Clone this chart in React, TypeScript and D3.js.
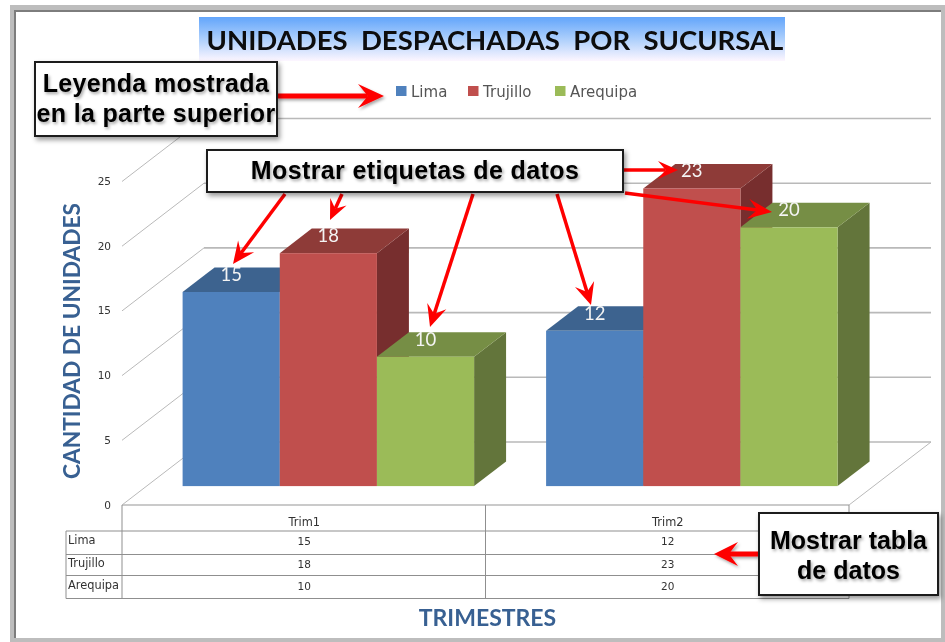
import React from "react";
import * as d3 from "d3";

const categories = ["Trim1", "Trim2"];
const seriesNames = ["Lima", "Trujillo", "Arequipa"];
const limaValues = [15, 12];
const trujilloValues = [18, 23];
const arequipaValues = [10, 20];
const yTicks = [0, 5, 10, 15, 20, 25];
const seriesValues = [limaValues, trujilloValues, arequipaValues];

const faceColors = ["#4f81bd", "#c0504d", "#9bbb59"];
const topColors = ["#3e648f", "#8e3b39", "#768e44"];
const sideColors = ["#335278", "#772f2e", "#64753a"];

const FLOOR_FRONT = 505;
const DEPTH_X = 82;
const DEPTH_Y = 63;
const BAR_DEPTH_FRONT = 0.3;
const BAR_DEPTH = 0.39;
const PLOT_LEFT = 122;
const PLOT_RIGHT = 849;

const yScale = d3.scaleLinear().domain([0, 25]).range([0, 323.5]);
const xOuter = d3.scaleBand<string>().domain(categories).range([PLOT_LEFT, PLOT_RIGHT]);
const groupPad = 36;
const xInner = d3.scaleBand<string>().domain(seriesNames).range([0, xOuter.bandwidth() - groupPad * 2]);

const barOffsetX = DEPTH_X * BAR_DEPTH_FRONT;
const barBase = FLOOR_FRONT - DEPTH_Y * BAR_DEPTH_FRONT;
const barDX = DEPTH_X * BAR_DEPTH;
const barDY = DEPTH_Y * BAR_DEPTH;

const tableRows = [531, 554.5, 575.5, 598.5];
const tableLeft = 66;

const LINE = "#b9b9b9";
const TABLE = "#8f8f8f";
const AXIS_FONT = "'DejaVu Sans', sans-serif";
const TITLE_FONT = "Lato, sans-serif";
const NOTE_FONT = "'Liberation Sans', Arial, sans-serif";

const notes = [
  { x: 35, y: 62, w: 242, h: 74, lines: ["Leyenda mostrada", "en la parte superior"], size: 25, spacing: 0.35, baselines: [92, 122] },
  { x: 207, y: 150, w: 416, h: 42, lines: ["Mostrar etiquetas de datos"], size: 25, spacing: 0.4, baselines: [179] },
  { x: 759, y: 513, w: 179, h: 82, lines: ["Mostrar tabla", "de datos"], size: 25, spacing: 0, baselines: [549, 579] },
];

const arrows = [
  { from: [277, 96], to: [384, 96], head: 26, half: 12, w: 5, shadow: true },
  { from: [285, 194], to: [233, 264], head: 22, half: 10, w: 3.5, shadow: false },
  { from: [342, 194], to: [330, 220], head: 20, half: 9, w: 3.5, shadow: false },
  { from: [473, 194], to: [430, 327], head: 22, half: 10, w: 3.5, shadow: false },
  { from: [557, 194], to: [591, 305], head: 22, half: 10, w: 3.5, shadow: false },
  { from: [623, 170], to: [678, 170], head: 20, half: 9, w: 3.5, shadow: false },
  { from: [625, 193], to: [772, 212], head: 24, half: 10, w: 3.5, shadow: false },
  { from: [758, 554], to: [714, 554], head: 24, half: 12, w: 5, shadow: true },
];

function arrowPath(from: number[], to: number[], head: number, half: number) {
  const a = Math.atan2(to[1] - from[1], to[0] - from[0]);
  const ux = Math.cos(a), uy = Math.sin(a);
  const back = (d: number, s: number) => [to[0] - ux * d - uy * s, to[1] - uy * d + ux * s];
  return d3.line()([to as [number, number], back(head, half) as [number, number], back(head * 0.62, 0) as [number, number], back(head, -half) as [number, number]]) + "Z";
}

function poly(points: [number, number][]) {
  return d3.line()(points) + "Z";
}

export default function App() {
  return (
    <svg width={945} height={642} style={{ position: "absolute", left: 0, top: 0, background: "#fff" }}>
      <defs>
        <linearGradient id="titleBg" x1="0" y1="0" x2="0" y2="1">
          <stop offset="0" stopColor="#62a5fb" />
          <stop offset="0.55" stopColor="#b4d3fc" />
          <stop offset="1" stopColor="#fdf6ff" />
        </linearGradient>
        <filter id="boxShadow" x="-10%" y="-20%" width="125%" height="150%">
          <feDropShadow dx="2" dy="3" stdDeviation="2.5" floodColor="#000" floodOpacity="0.4" />
        </filter>
        <filter id="textShadow" x="-10%" y="-20%" width="125%" height="150%">
          <feDropShadow dx="1.5" dy="2" stdDeviation="1.5" floodColor="#000" floodOpacity="0.35" />
        </filter>
        <filter id="soft" x="-5%" y="-5%" width="110%" height="110%">
          <feGaussianBlur stdDeviation="0.35" />
        </filter>
      </defs>

      {/* frame */}
      <rect x={10} y={5} width={935} height={637} fill="#bdbdbd" />
      <rect x={14} y={10} width={927} height={628} fill="#7d7d7d" />
      <rect x={16} y={12} width={925} height={626} fill="#fff" />

      <g filter="url(#soft)">
        {/* title */}
        <rect x={199} y={17} width={586} height={44} fill="url(#titleBg)" />
        <text x={495} y={50} textAnchor="middle" fontFamily={TITLE_FONT} fontWeight={700} fontSize={27.5} fill="#0a0a0a" style={{ whiteSpace: "pre" }}>
          UNIDADES  DESPACHADAS  POR  SUCURSAL
        </text>

        {/* legend */}
        {seriesNames.map((name, i) => {
          const sx = [396, 468, 555][i];
          return (
            <g key={name}>
              <rect x={sx} y={86} width={10.5} height={10} fill={faceColors[i]} />
              <text x={sx + 15} y={97} fontFamily={AXIS_FONT} fontSize={15} fill="#555">{name}</text>
            </g>
          );
        })}

        {/* back wall and floor */}
        {yTicks.map((t) => {
          const fy = FLOOR_FRONT - yScale(t);
          return (
            <g key={t}>
              <line x1={PLOT_LEFT} y1={fy} x2={PLOT_LEFT + DEPTH_X} y2={fy - DEPTH_Y} stroke={LINE} strokeWidth={1} />
              <line x1={PLOT_LEFT + DEPTH_X} y1={fy - DEPTH_Y} x2={PLOT_RIGHT + DEPTH_X} y2={fy - DEPTH_Y} stroke={LINE} strokeWidth={1.6} />
              <text x={111} y={fy + 3.5} textAnchor="end" fontFamily={AXIS_FONT} fontSize={10.5} fill="#333">{t}</text>
            </g>
          );
        })}
        <line x1={PLOT_RIGHT} y1={FLOOR_FRONT} x2={PLOT_RIGHT + DEPTH_X} y2={FLOOR_FRONT - DEPTH_Y} stroke={LINE} strokeWidth={1} />
        <line x1={PLOT_LEFT} y1={FLOOR_FRONT} x2={PLOT_RIGHT} y2={FLOOR_FRONT} stroke={LINE} strokeWidth={1.5} />

        {/* bars */}
        {categories.map((cat, c) =>
          seriesNames.map((name, s) => {
            const v = seriesValues[s][c];
            const x0 = (xOuter(cat) as number) + groupPad + barOffsetX + (xInner(name) as number);
            const x1 = x0 + xInner.bandwidth();
            const yTop = barBase - yScale(v);
            return (
              <g key={cat + name}>
                <path d={poly([[x1, yTop], [x1 + barDX, yTop - barDY], [x1 + barDX, barBase - barDY], [x1, barBase]])} fill={sideColors[s]} />
                <path d={poly([[x0, yTop], [x0 + barDX, yTop - barDY], [x1 + barDX, yTop - barDY], [x1, yTop]])} fill={topColors[s]} />
                <rect x={x0} y={yTop} width={x1 - x0} height={barBase - yTop} fill={faceColors[s]} />
              </g>
            );
          })
        )}

        {/* data labels */}
        {categories.map((cat, c) =>
          seriesNames.map((name, s) => {
            const v = seriesValues[s][c];
            const x0 = (xOuter(cat) as number) + groupPad + barOffsetX + (xInner(name) as number);
            return (
              <text key={cat + name} x={x0 + xInner.bandwidth() / 2} y={barBase - yScale(v) - 11} textAnchor="middle" fontFamily={TITLE_FONT} fontSize={18.5} fill="#f4f4f4">
                {v}
              </text>
            );
          })
        )}

        {/* table */}
        <g stroke={TABLE} strokeWidth={1} fill="none">
          {tableRows.map((y) => (
            <line key={y} x1={tableLeft} y1={y} x2={PLOT_RIGHT} y2={y} />
          ))}
          <line x1={tableLeft} y1={tableRows[0]} x2={tableLeft} y2={tableRows[3]} />
          {[PLOT_LEFT, ...categories.map((c) => (xOuter(c) as number) + xOuter.bandwidth())].map((x) => (
            <line key={x} x1={x} y1={FLOOR_FRONT} x2={x} y2={tableRows[3]} />
          ))}
        </g>
        {categories.map((cat, c) => {
          const cx = (xOuter(cat) as number) + xOuter.bandwidth() / 2 + 0.5;
          return (
            <g key={cat} fontFamily={AXIS_FONT} fill="#333" textAnchor="middle">
              <text x={cx} y={526} fontSize={11.4}>{cat}</text>
              {seriesValues.map((vals, s) => (
                <text key={s} x={cx} y={(tableRows[s] + tableRows[s + 1]) / 2 + 2.5} fontSize={10.5}>{vals[c]}</text>
              ))}
            </g>
          );
        })}
        {seriesNames.map((name, s) => (
          <text key={name} x={68} y={(tableRows[s] + tableRows[s + 1]) / 2 + 1.5} fontFamily={AXIS_FONT} fontSize={11.4} fill="#333">{name}</text>
        ))}

        {/* axis titles */}
        <text transform="translate(80,341) rotate(-90)" textAnchor="middle" fontFamily={TITLE_FONT} fontWeight={700} fontSize={22.7} fill="#376092">
          CANTIDAD DE UNIDADES
        </text>
        <text x={487.5} y={626} textAnchor="middle" fontFamily={TITLE_FONT} fontWeight={700} fontSize={23} fill="#376092">
          TRIMESTRES
        </text>
      </g>

      {/* arrows */}
      {arrows.map((a, i) => {
        const ang = Math.atan2(a.to[1] - a.from[1], a.to[0] - a.from[0]);
        const inset = a.head * 0.62;
        return (
          <g key={i} filter={a.shadow ? "url(#textShadow)" : undefined}>
            <line x1={a.from[0]} y1={a.from[1]} x2={a.to[0] - Math.cos(ang) * inset} y2={a.to[1] - Math.sin(ang) * inset} stroke="#fe0000" strokeWidth={a.w} />
            <path d={arrowPath(a.from, a.to, a.head, a.half)} fill="#fe0000" />
          </g>
        );
      })}

      {/* callouts */}
      {notes.map((n) => (
        <g key={n.lines[0]}>
          <rect x={n.x} y={n.y} width={n.w} height={n.h} fill="#fff" stroke="#1a1a1a" strokeWidth={2} filter="url(#boxShadow)" />
          <g filter="url(#textShadow)">
            {n.lines.map((l, i) => (
              <text key={l} x={n.x + n.w / 2} y={n.baselines[i]} textAnchor="middle" fontFamily={NOTE_FONT} fontWeight={700} fontSize={n.size} letterSpacing={n.spacing} fill="#050505">
                {l}
              </text>
            ))}
          </g>
        </g>
      ))}
    </svg>
  );
}
